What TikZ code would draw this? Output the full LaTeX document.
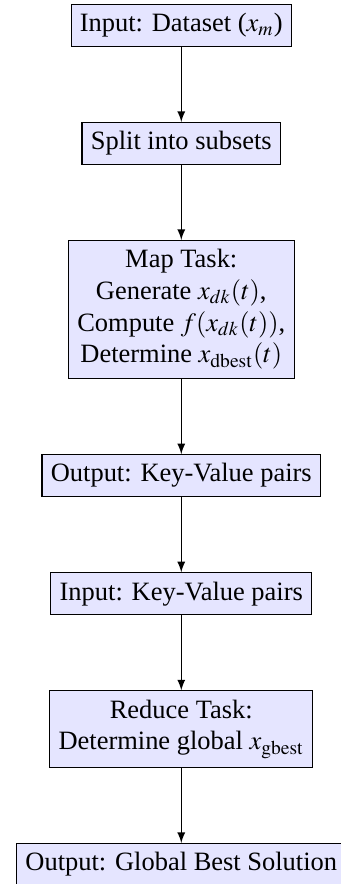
\documentclass[tikz,border=0pt]{standalone}
\usepackage{mathptmx}
\usepackage{fontspec}
\setmainfont{Liberation Serif}
\usetikzlibrary{positioning,calc,arrows}

\begin{document}
\begin{tikzpicture}[node distance=1cm,
  stagebox/.style={draw, fill=blue!10, align=center},
  flow/.style={-latex}]
% Map side
\node[stagebox] (input) {Input: Dataset ($x_m$)};
\node[stagebox, below=of input] (split) {Split into subsets};
\node[stagebox, below=of split] (map) {Map Task:\\ Generate $x_{dk}(t)$,\\ Compute $f(x_{dk}(t))$,\\ Determine $x_{\mathrm{dbest}}(t)$};
\node[stagebox, below=of map] (mapout) {Output: Key-Value pairs};
% Reduce side
\node[stagebox, below=of mapout] (redin) {Input: Key-Value pairs};
\node[stagebox, below=of redin] (reduce) {Reduce Task:\\ Determine global $x_{\mathrm{gbest}}$};
\node[stagebox, below=of reduce] (result) {Output: Global Best Solution};
% Arrows
\draw[flow] (input) -- (split);
\draw[flow] (split) -- (map);
\draw[flow] (map) -- (mapout);
\draw[flow] (mapout) -- (redin);
\draw[flow] (redin) -- (reduce);
\draw[flow] (reduce) -- (result);
\pgfresetboundingbox
\useasboundingbox ($(input.north)+(-68.5pt,1.5pt)$) rectangle ($(result.north)+(60.2pt,-15.5pt)$);
\end{tikzpicture}
\end{document}
